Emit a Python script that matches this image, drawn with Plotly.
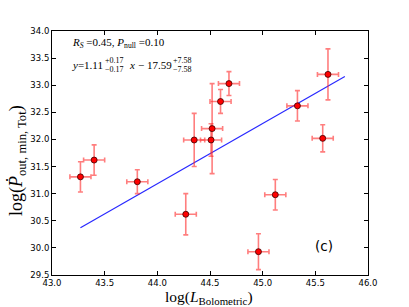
import plotly.graph_objects as go

# ---- data ----
log_lbol = [43.27, 43.40, 43.81, 44.27, 44.35, 44.51, 44.52, 44.60, 44.68, 44.96, 45.12, 45.33, 45.57, 45.62]
log_pout = [31.31, 31.62, 31.22, 30.62, 31.99, 31.99, 32.20, 32.70, 33.03, 29.93, 30.98, 32.62, 32.02, 33.20]
err_lbol = [0.10, 0.10, 0.10, 0.10, 0.10, 0.10, 0.10, 0.10, 0.10, 0.10, 0.10, 0.10, 0.10, 0.10]
err_pout = [0.28, 0.28, 0.22, 0.38, 0.49, 0.30, 0.83, 0.22, 0.22, 0.33, 0.28, 0.28, 0.25, 0.47]
fit_x = [43.27, 45.78]
fit_y = [30.37, 33.16]
x_ticks = [43.0, 43.5, 44.0, 44.5, 45.0, 45.5, 46.0]
y_ticks = [29.5, 30.0, 30.5, 31.0, 31.5, 32.0, 32.5, 33.0, 33.5, 34.0]

W, H = 409, 307
ML, MR, MT, MB = 52, 41, 31, 32
PW, PH = W - ML - MR, H - MT - MB


def px(xp):
    return (xp - ML) / PW


def py(yp):
    return (H - MB - yp) / PH


SERIF = "Liberation Serif"
SANS = "DejaVu Sans"

fig = go.Figure()
fig.add_trace(go.Scatter(
    x=fit_x, y=fit_y, mode="lines",
    line=dict(color="rgb(40,40,255)", width=1.2),
    showlegend=False, hoverinfo="skip"))
fig.add_trace(go.Scatter(
    x=log_lbol, y=log_pout, mode="markers",
    marker=dict(color="red", size=6, line=dict(color="rgb(60,0,0)", width=0.8)),
    error_x=dict(type="data", array=err_lbol, color="rgba(255,40,40,0.6)", thickness=1.6, width=2.5),
    error_y=dict(type="data", array=err_pout, color="rgba(255,40,40,0.6)", thickness=1.6, width=2.5),
    showlegend=False))

ann = []


def txt(xp, yp, text, size, family=SERIF, xanchor="left", angle=0):
    ann.append(dict(x=px(xp), y=py(yp), xref="paper", yref="paper", xanchor=xanchor, yanchor="middle",
                    text=text, showarrow=False, borderpad=0, borderwidth=0, textangle=angle,
                    font=dict(family=family, size=size, color="black")))


# stats text, line 1
txt(72, 43, "<i>R</i><sub><i>S</i></sub> =0.45, <i>P</i><sub>null</sub> =0.10", 11)
# line 2 pieces
txt(72, 65, "<i>y</i>=1.11", 11)
txt(105, 60.5, "+0.17", 8)
txt(105, 69.5, "\u22120.17", 8)
txt(128.5, 65, "<i>x</i>", 11)
txt(137.5, 65, "\u2212", 11)
txt(146.5, 65, "17.59", 11)
txt(172.5, 60.5, "+7.58", 8)
txt(172.5, 69.5, "\u22127.58", 8)
# panel label
txt(324, 246, "(c)", 13.5, family=SANS, xanchor="center")
# axis titles
txt(209, 297, "log(<i>L</i><sub>Bolometric</sub>)", 15.5, xanchor="center")
txt(17, 161, "log(<i>\u1E56</i><sub>out, min, Tot</sub>)", 18, xanchor="center", angle=-90)

axis_common = dict(showline=True, linecolor="black", linewidth=1, mirror="ticks",
                   ticks="inside", ticklen=4, tickwidth=0.8, tickcolor="black",
                   showgrid=False, zeroline=False,
                   tickfont=dict(family=SANS, size=8.5, color="black"))

fig.update_layout(
    width=W, height=H,
    margin=dict(l=ML, r=MR, t=MT, b=MB, pad=0),
    paper_bgcolor="white", plot_bgcolor="white",
    xaxis=dict(range=[43.0, 46.0], tickvals=x_ticks, ticktext=[f"{v:.1f}" for v in x_ticks], **axis_common),
    yaxis=dict(range=[29.5, 34.0], tickvals=y_ticks, ticktext=[f"{v:.1f}" for v in y_ticks], **axis_common),
    annotations=ann,
)

fig.write_html("out.html", config={"displayModeBar": False},
               post_script="document.body.style.margin='0';document.body.style.padding='0';")
